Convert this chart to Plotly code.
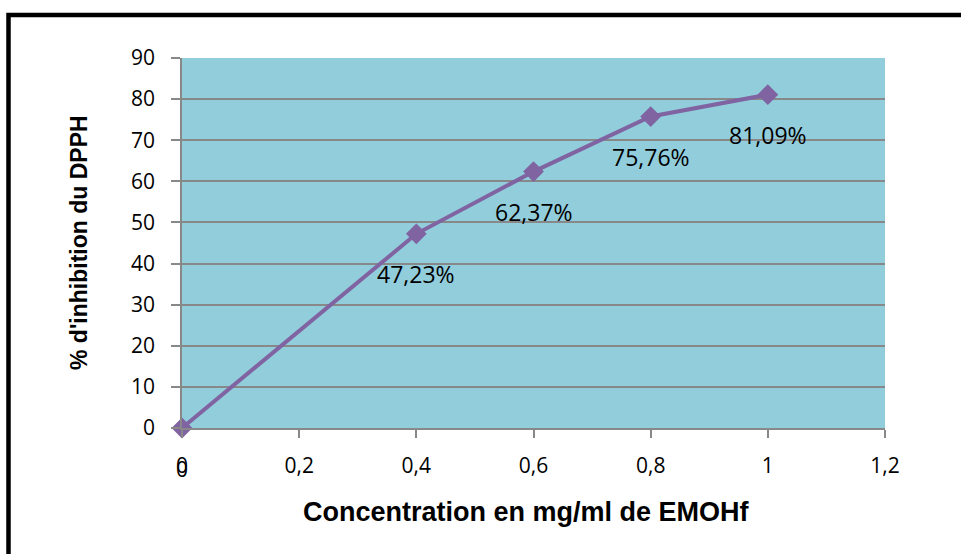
import plotly.graph_objects as go

# data
concentration = [0, 0.4, 0.6, 0.8, 1.0]
inhibition = [0, 47.23, 62.37, 75.76, 81.09]
point_labels = ["", "47,23%", "62,37%", "75,76%", "81,09%"]
x_ticks = [0, 0.2, 0.4, 0.6, 0.8, 1.0, 1.2]
x_tick_text = ["0", "0,2", "0,4", "0,6", "0,8", "1", "1,2"]
y_ticks = [0, 10, 20, 30, 40, 50, 60, 70, 80, 90]

W, H = 961, 554
ML, MR, MT, MB = 182, 76, 58, 126
PW, PH = W - ML - MR, H - MT - MB


def px_x(px):
    return (px - ML) / PW


def px_y(py):
    return (H - MB - py) / PH


purple = "#8064A2"
grid = "#888888"
tick_font = dict(family="Open Sans", size=21, color="#000000")

fig = go.Figure()
fig.add_trace(go.Scatter(
    x=concentration, y=inhibition,
    mode="lines+markers",
    line=dict(color=purple, width=4),
    marker=dict(symbol="diamond", size=16, color=purple),
    cliponaxis=False,
    showlegend=False,
))

# data labels, Excel style below the points
for xv, yv, lab in zip(concentration, inhibition, point_labels):
    if lab:
        fig.add_annotation(x=xv, y=yv, text=lab, showarrow=False,
                           yshift=-40, font=dict(family="Open Sans", size=23, color="#000"))

# second overlapping "0" under the x origin
fig.add_annotation(x=0, y=0, text="0", showarrow=False, xref="x", yref="y",
                   yshift=-41, font=tick_font)

# axis titles
fig.add_annotation(x=px_x(526), y=px_y(512), xref="paper", yref="paper",
                   xanchor="center", yanchor="middle",
                   text="<b>Concentration en mg/ml de EMOHf</b>", showarrow=False,
                   font=dict(family="Liberation Sans", size=27, color="#000"))
fig.add_annotation(x=px_x(79), y=px_y(243), xref="paper", yref="paper",
                   xanchor="center", yanchor="middle",
                   text="<b>% d'inhibition du DPPH</b>", showarrow=False, textangle=-90,
                   font=dict(family="Liberation Sans", size=23, color="#000"))

# black frame, cut by the image edges
fig.add_shape(type="rect", xref="paper", yref="paper",
              x0=px_x(8.5), x1=px_x(W + 20), y0=px_y(H + 20), y1=px_y(15),
              line=dict(color="#000000", width=4.5), layer="above")

fig.update_layout(
    width=W, height=H,
    margin=dict(l=ML, r=MR, t=MT, b=MB, autoexpand=False),
    paper_bgcolor="#ffffff",
    plot_bgcolor="#92CDDC",
    xaxis=dict(
        range=[0, 1.2], tickvals=x_ticks, ticktext=x_tick_text,
        showgrid=False, zeroline=False,
        showline=True, linecolor=grid, linewidth=1.5,
        ticks="outside", ticklen=8, tickcolor=grid, tickwidth=1.5,
        tickfont=tick_font, ticklabelstandoff=10,
    ),
    yaxis=dict(
        range=[0, 90], tickvals=y_ticks,
        showgrid=True, gridcolor=grid, gridwidth=1.5, zeroline=False,
        showline=True, linecolor=grid, linewidth=1.5,
        ticks="outside", ticklen=9, tickcolor=grid, tickwidth=1.5,
        tickfont=tick_font, ticklabelstandoff=12,
    ),
)

fig.write_html("out.html", config={"displayModeBar": False},
               post_script="document.body.style.margin='0';")
